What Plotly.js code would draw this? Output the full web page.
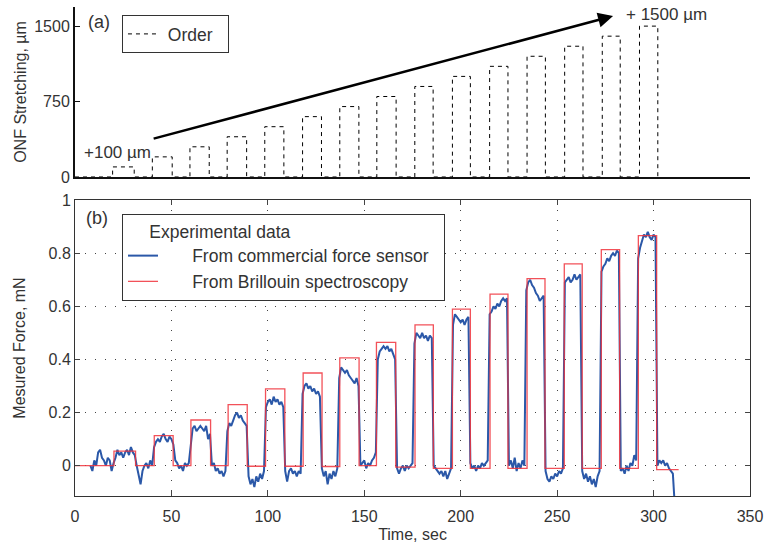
<!DOCTYPE html>
<html>
<head>
<meta charset="utf-8">
<script src="https://cdn.plot.ly/plotly-3.0.1.min.js"></script>
<style>html,body{margin:0;padding:0;background:#fff}#plot{width:764px;height:543px}</style>
</head>
<body>
<div id="plot"></div>
<script>
// ---- Data ----
// (a) Order: ONF stretching steps
var orderStart = [19.5, 40.1, 59.6, 78.9, 98.4, 118.0, 137.3, 156.5, 176.2, 195.7, 215.0, 234.4, 253.9, 273.4, 292.7];
var orderEnd   = [30.7, 50.4, 69.6, 89.0, 108.3, 127.8, 147.2, 166.5, 185.7, 205.0, 224.5, 243.9, 263.4, 282.7, 302.2];
var orderLevel = [100, 200, 300, 400, 500, 600, 700, 800, 900, 1000, 1100, 1200, 1300, 1400, 1500];

// (b) Brillouin spectroscopy steps
var redStart = [20.2, 41.1, 60.1, 79.4, 98.8, 118.3, 137.3, 156.3, 176.3, 195.7, 215.2, 234.4, 253.7, 272.9, 292.1];
var redEnd   = [31.4, 50.9, 70.3, 89.3, 108.8, 128.1, 147.3, 166.3, 185.8, 205.0, 224.5, 243.7, 263.0, 282.4, 301.6];
var redLevel = [0.055, 0.113, 0.172, 0.23, 0.289, 0.349, 0.406, 0.464, 0.53, 0.589, 0.646, 0.704, 0.76, 0.813, 0.866];
var redBase  = [0, 0, 0, 0, -0.002, -0.002, -0.003, 0, -0.005, -0.01, -0.01, -0.01, -0.01, -0.01, -0.01, -0.015];
var redStop  = 313;

// (b) Commercial force sensor, one reading per second from t = 8 s to t = 311 s
var blueT0 = 8;
var blueVal = [
  0.0, -0.02, 0.02, 0.0, 0.05, 0.06, 0.03, 0.02, 0.0, 0.03, 0.02, -0.02, 0.01,
  0.03, 0.06, 0.04, 0.05, 0.03, 0.05, 0.06, 0.04, 0.07, 0.05, 0.04,
  0.0, -0.04, -0.07, -0.02, 0.0, 0.01, -0.01, 0.02, 0.0,
  0.07, 0.09, 0.1, 0.09, 0.11, 0.12, 0.1, 0.09, 0.11, 0.1, 0.08,
  0.02, 0.01, -0.01, 0.0, -0.02, 0.01, 0.0, 0.01,
  0.09, 0.14, 0.15, 0.13, 0.14, 0.15, 0.14, 0.13, 0.15, 0.1, 0.12,
  0.0, 0.01, -0.02, -0.01, -0.03, -0.02, -0.04, -0.02,
  0.13, 0.16, 0.15, 0.17, 0.19, 0.2, 0.18, 0.19, 0.17, 0.16, 0.15,
  -0.04, -0.07, -0.05, -0.08, -0.04, -0.06, -0.03, -0.05, -0.02,
  0.22, 0.24, 0.25, 0.23, 0.26, 0.24, 0.25, 0.23, 0.24, 0.22,
  -0.02, -0.06, -0.02, -0.01, -0.03, -0.02, -0.04, -0.02, -0.03,
  0.27, 0.3, 0.31, 0.29, 0.3, 0.28, 0.29, 0.27, 0.28, 0.26,
  -0.01, -0.04, -0.02, -0.07, -0.03, -0.05, -0.02, -0.04, -0.01,
  0.33, 0.37, 0.36, 0.35, 0.36, 0.34, 0.33, 0.32, 0.31, 0.33, 0.3,
  0.0, 0.01, 0.02, -0.01, 0.01, 0.0, 0.02, 0.03, 0.05,
  0.4, 0.43, 0.44, 0.45, 0.44, 0.45, 0.43, 0.44, 0.42, 0.4,
  -0.01, -0.03, -0.01, 0.0, -0.02, 0.0, -0.01, 0.0, 0.01,
  0.46, 0.5, 0.49, 0.48, 0.5, 0.48, 0.49, 0.47, 0.49, 0.48,
  0.0, -0.01, -0.02, -0.03, -0.02, -0.04, -0.02, -0.05, -0.03, -0.01,
  0.53, 0.57, 0.56, 0.55, 0.54, 0.55, 0.53, 0.55, 0.56,
  0.01, -0.01, 0.0, -0.02, 0.0, -0.01, 0.01, 0.0, 0.01, 0.02,
  0.57, 0.58, 0.6, 0.59, 0.61, 0.6, 0.62, 0.63, 0.62, 0.63,
  0.0, 0.02, -0.01, 0.03, -0.02, 0.01, -0.01, 0.02, 0.0,
  0.66, 0.69, 0.7, 0.68, 0.67, 0.65, 0.64, 0.62, 0.63, 0.64,
  -0.02, -0.05, -0.06, -0.04, -0.05, -0.03, -0.04, -0.02, -0.03, -0.01,
  0.69, 0.7, 0.71, 0.69, 0.7, 0.72, 0.7, 0.71, 0.72,
  -0.02, -0.05, -0.03, -0.06, -0.04, -0.07, -0.05, -0.08, -0.04, -0.02,
  0.73, 0.75, 0.76, 0.78, 0.77, 0.79, 0.8, 0.79, 0.81, 0.8,
  -0.02, -0.01, -0.03, 0.0, -0.02, 0.01, 0.0, 0.04, 0.02,
  0.78, 0.82, 0.85, 0.87, 0.86, 0.88, 0.86, 0.85, 0.87, 0.86,
  0.0, 0.02, 0.01, 0.02, 0.0, 0.01, -0.01, -0.02, -0.03, -0.15
];

var xTicks = [0, 50, 100, 150, 200, 250, 300, 350];
var yTicksB = [0, 0.2, 0.4, 0.6, 0.8, 1];
var yTickTextB = ['0', '0.2', '0.4', '0.6', '0.8', '1'];
var yTicksA = [0, 750, 1500];

// ---- Build step paths from arrays ----
function steps(starts, ends, levels, bases, stop) {
  var x = [0], y = [bases ? bases[0] : 0];
  for (var i = 0; i < starts.length; i++) {
    var b0 = bases ? bases[i] : 0, b1 = bases ? bases[i + 1] : 0;
    x.push(starts[i], starts[i], ends[i], ends[i]);
    y.push(b0, levels[i], levels[i], b1);
  }
  if (stop !== undefined) { x.push(stop); y.push(bases ? bases[bases.length - 1] : 0); }
  return {x: x, y: y};
}
var ord = steps(orderStart, orderEnd, orderLevel, null);
var red = steps(redStart, redEnd, redLevel, redBase, redStop);
var blueT = blueVal.map(function (v, i) { return blueT0 + i; });

var font = 'Liberation Sans, Arial, sans-serif';
var dark = '#333333';
var pad = '\u00a0\u00a0\u00a0\u00a0\u00a0\u00a0';

var traces = [
  {x: ord.x, y: ord.y, xaxis: 'x2', yaxis: 'y2', type: 'scatter', mode: 'lines',
   name: '\u00a0Order\u00a0\u00a0', legend: 'legend2', line: {color: '#000', width: 1, dash: '4px,4px'}},
  {x: blueT, y: blueVal, type: 'scatter', mode: 'lines', name: pad + 'From commercial force sensor\u00a0\u00a0',
   line: {color: '#2b58a8', width: 2}},
  {x: red.x, y: red.y, type: 'scatter', mode: 'lines', name: pad + 'From Brillouin spectroscopy',
   line: {color: 'rgba(240,50,60,0.85)', width: 1.3}}
];

var grid = {showgrid: true, gridcolor: '#444', gridwidth: 1, griddash: '1px,9px'};

var layout = {
  width: 764, height: 543,
  margin: {l: 75, r: 14, t: 7, b: 47},
  paper_bgcolor: '#fff', plot_bgcolor: 'rgba(0,0,0,0)',
  font: {family: font, size: 16, color: dark},
  showlegend: true,
  xaxis: Object.assign({domain: [0, 1], range: [0, 350], tickvals: xTicks, ticks: 'inside', ticklen: 5,
    showline: true, mirror: 'ticks', linecolor: dark, linewidth: 1, zeroline: false,
    anchor: 'y', tickfont: {size: 16, color: dark}, ticklabelstandoff: 6,
    title: {text: 'Time, sec', font: {size: 16, color: dark}, standoff: 4}}, grid),
  yaxis: Object.assign({domain: [0, 0.6053], range: [-0.114, 1], tickvals: yTicksB, ticktext: yTickTextB,
    ticks: 'inside', ticklen: 5, showline: true, mirror: 'ticks', linecolor: dark, linewidth: 1,
    zeroline: false, anchor: 'x', tickfont: {size: 16, color: dark},
    title: {text: 'Mesured Force, mN', font: {size: 16, color: dark}, standoff: 18}}, grid),
  xaxis2: {domain: [0, 1], range: [0, 350], anchor: 'y2', showticklabels: false, ticks: '',
    showline: true, linecolor: '#111', linewidth: 2, showgrid: false, zeroline: false},
  yaxis2: {domain: [0.6524, 1], range: [0, 1690], tickvals: yTicksA, anchor: 'x2',
    ticks: 'inside', ticklen: 5, tickcolor: '#111', showline: true, linecolor: '#111', linewidth: 2,
    showgrid: false, zeroline: false, tickfont: {size: 16, color: dark},
    title: {text: 'ONF Stretching, µm', font: {size: 16, color: dark}, standoff: 4}},
  legend: {x: 0.0696, y: 0.5767, xref: 'paper', yref: 'paper', xanchor: 'left', yanchor: 'top',
    bgcolor: '#fff', bordercolor: dark, borderwidth: 1, itemwidth: 30,
    font: {size: 17.5, color: dark}, tracegroupgap: 0,
    title: {text: '     Experimental data', font: {size: 17.5, color: dark}}},
  legend2: {x: 0.0696, y: 0.9836, xref: 'paper', yref: 'paper', xanchor: 'left', yanchor: 'top',
    bgcolor: '#fff', bordercolor: dark, borderwidth: 1, itemwidth: 30,
    font: {size: 17.5, color: dark}},
  annotations: [
    {xref: 'paper', yref: 'paper', x: 0.017, y: 0.969, xanchor: 'left', yanchor: 'middle',
     text: '(a)', showarrow: false, font: {size: 18, color: dark}},
    {xref: 'paper', yref: 'paper', x: 0.014, y: 0.5685, xanchor: 'left', yanchor: 'middle',
     text: '(b)', showarrow: false, font: {size: 18, color: dark}},
    {xref: 'x2', yref: 'y2', x: 3.5, y: 248, xanchor: 'left', yanchor: 'middle',
     text: '+100 µm', showarrow: false, font: {size: 17, color: dark}},
    {xref: 'x2', yref: 'y2', x: 284.5, y: 1619, xanchor: 'left', yanchor: 'middle',
     text: '+ 1500 µm', showarrow: false, font: {size: 17, color: dark}},
    {xref: 'x2', yref: 'y2', x: 279, y: 1600, axref: 'x2', ayref: 'y2', ax: 40, ay: 377,
     text: '', showarrow: true, arrowhead: 2, arrowsize: 1.2, arrowwidth: 2.5, arrowcolor: '#000'}
  ]
};

Plotly.newPlot('plot', traces, layout, {displayModeBar: false, staticPlot: true});
</script>
</body>
</html>
